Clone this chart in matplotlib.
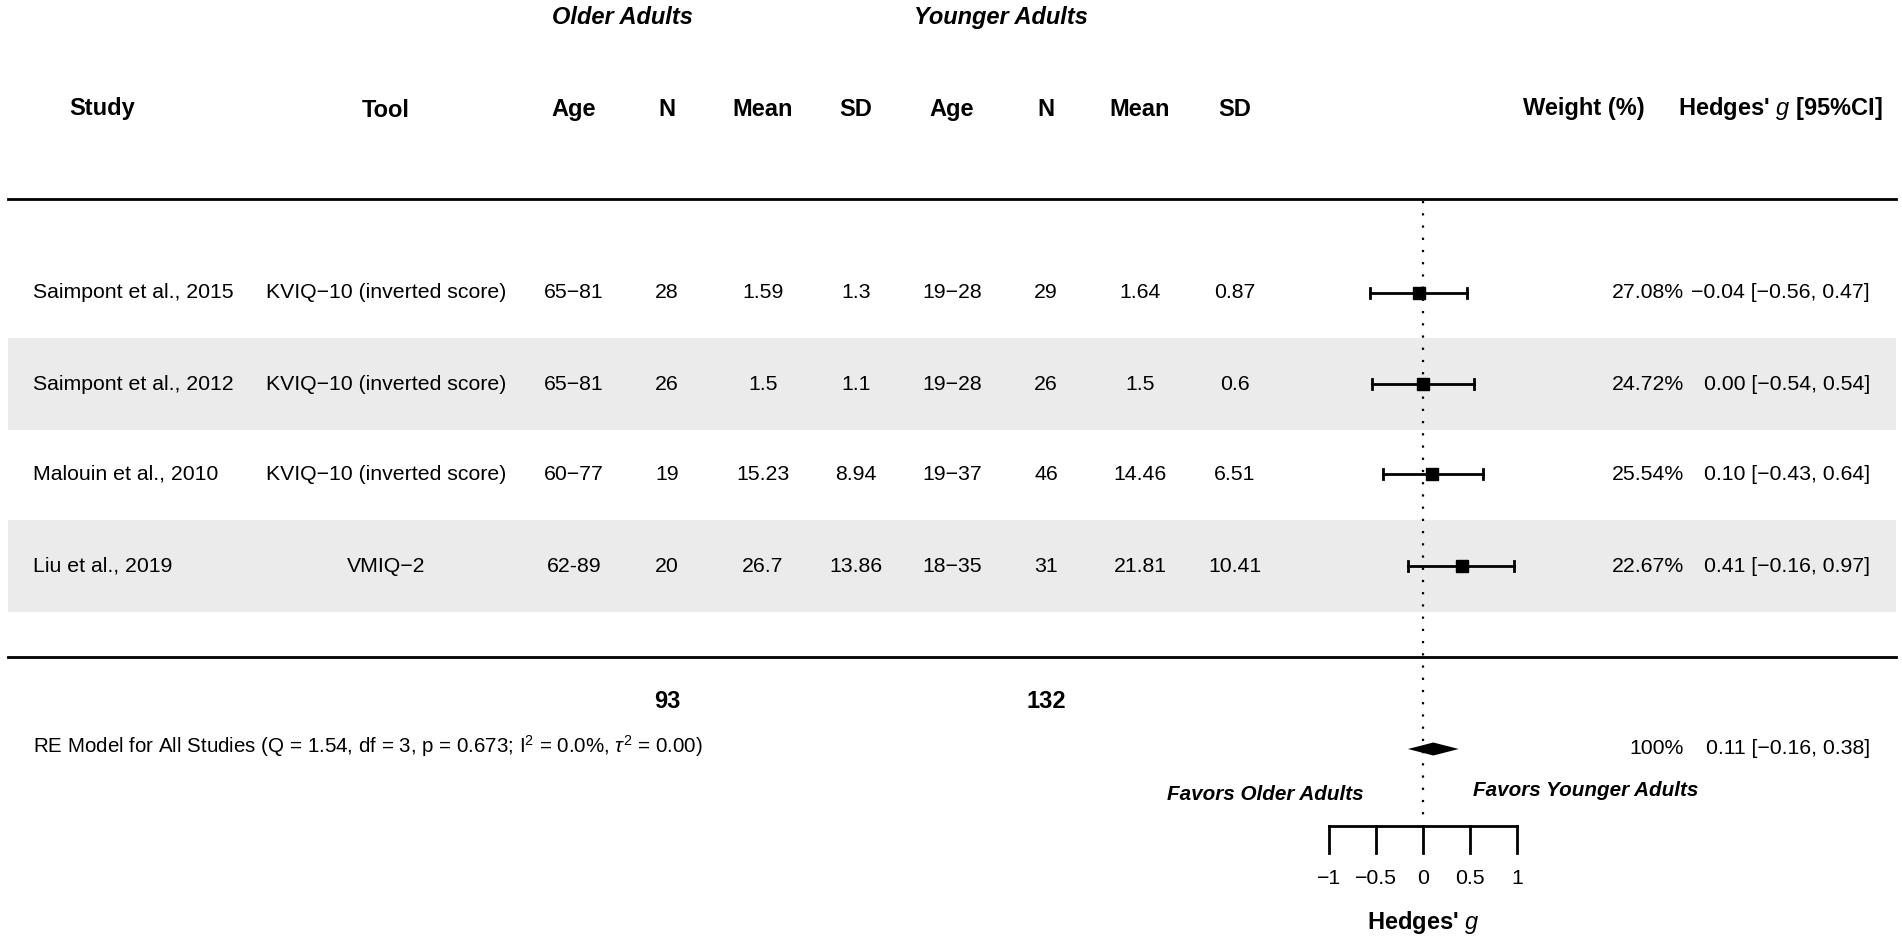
import numpy as np
import matplotlib.pyplot as plt

plt.rcParams['font.family'] = ['Liberation Sans', 'DejaVu Sans']
plt.rcParams['mathtext.fontset'] = 'custom'
plt.rcParams['mathtext.rm'] = 'Liberation Sans'
plt.rcParams['mathtext.it'] = 'Liberation Sans:italic'

# data
studies = ['Saimpont et al., 2015', 'Saimpont et al., 2012', 'Malouin et al., 2010', 'Liu et al., 2019']
tools = ['KVIQ\u221210 (inverted score)', 'KVIQ\u221210 (inverted score)', 'KVIQ\u221210 (inverted score)', 'VMIQ\u22122']
old_age = ['65\u221281', '65\u221281', '60\u221277', '62-89']
old_n = [28, 26, 19, 20]
old_mean = ['1.59', '1.5', '15.23', '26.7']
old_sd = ['1.3', '1.1', '8.94', '13.86']
young_age = ['19\u221228', '19\u221228', '19\u221237', '18\u221235']
young_n = [29, 26, 46, 31]
young_mean = ['1.64', '1.5', '14.46', '21.81']
young_sd = ['0.87', '0.6', '6.51', '10.41']
weights = [27.08, 24.72, 25.54, 22.67]
g = [-0.04, 0.00, 0.10, 0.41]
ci_lo = [-0.56, -0.54, -0.43, -0.16]
ci_hi = [0.47, 0.54, 0.64, 0.97]
pooled = 0.11
pooled_lo = -0.16
pooled_hi = 0.38
xticks = [-1, -0.5, 0, 0.5, 1]

W, H = 1902, 941
ZERO_PX, UNIT = 1423, 94
row_y = [293, 384, 474, 566]
row_h = 92
FS = 15.3
HFS = 17

fig = plt.figure(figsize=(W / 100, H / 100), dpi=100)
ax = fig.add_axes([0, 0, 1, 1])
ax.set_xlim(0, W)
ax.set_ylim(H, 0)
ax.axis('off')

# shaded rows
for i, y in enumerate(row_y):
    if i % 2 == 1:
        ax.axhspan(y - row_h / 2, y + row_h / 2, xmin=8 / W, xmax=1896 / W, color='#ebebeb', lw=0, zorder=0)

ax.plot([8, 1896], [199, 199], color='black', lw=2)
ax.plot([8, 1896], [657, 657], color='black', lw=2)

hdr = dict(fontsize=HFS, fontweight='bold', ha='center', va='center')
ax.text(622, 17, 'Older Adults', style='italic', **hdr)
ax.text(1001, 17, 'Younger Adults', style='italic', **hdr)
cols = [574, 667, 763, 856, 952, 1046, 1140, 1235]
names = ['Age', 'N', 'Mean', 'SD', 'Age', 'N', 'Mean', 'SD']
ax.text(102, 108, 'Study', **hdr)
ax.text(386, 110, 'Tool', **hdr)
for x, nm in zip(cols, names):
    ax.text(x, 109, nm, **hdr)
ax.text(1584, 108, 'Weight (%)', **hdr)
ax.text(1780, 108, r"Hedges' $\mathbf{\mathit{g}}$ [95%CI]", **hdr)

for i, y in enumerate(row_y):
    ax.text(33, y, studies[i], fontsize=FS, ha='left', va='center')
    ax.text(386, y, tools[i], fontsize=FS, ha='center', va='center')
    vals = [old_age[i], old_n[i], old_mean[i], old_sd[i],
            young_age[i], young_n[i], young_mean[i], young_sd[i]]
    for x, v in zip(cols, vals):
        ax.text(x, y, str(v), fontsize=FS, ha='center', va='center')
    ax.text(1684, y, f'{weights[i]:.2f}%', fontsize=FS, ha='right', va='center')
    ax.text(1870, y, f'{g[i]:.2f} [{ci_lo[i]:.2f}, {ci_hi[i]:.2f}]'.replace('-', '\u2212'),
            fontsize=FS, ha='right', va='center')

ax.text(667, 702, str(sum(old_n)), **hdr)
ax.text(1046, 702, str(sum(young_n)), **hdr)
ax.text(33, 746, r'RE Model for All Studies (Q = 1.54, df = 3, p = 0.673; I$^2$ = 0.0%, $\tau^2$ = 0.00)',
        fontsize=14.8, ha='left', va='center')
ax.text(1684, 748, '100%', fontsize=FS, ha='right', va='center')
ax.text(1870, 748, f'{pooled:.2f} [{pooled_lo:.2f}, {pooled_hi:.2f}]'.replace('-', '\u2212'),
        fontsize=FS, ha='right', va='center')
fav = {**hdr, 'style': 'italic', 'fontsize': 14.9}
ax.text(1265, 795, 'Favors Older Adults', **fav)
ax.text(1586, 791, 'Favors Younger Adults', **fav)

# forest part, x in Hedges' g units
fp = fig.add_axes([0, 0, 1, 1])
fp.set_xlim(-ZERO_PX / UNIT, (W - ZERO_PX) / UNIT)
fp.set_ylim(H, 0)
fp.axis('off')

fp.plot([0, 0], [201, 822], color='black', lw=1.6, ls=(0, (1, 4.5)))
wmax = max(weights)
for i, y in enumerate(row_y):
    fp.plot([ci_lo[i], ci_hi[i]], [y, y], color='black', lw=2)
    for e in (ci_lo[i], ci_hi[i]):
        fp.plot([e, e], [y - 5, y + 5], color='black', lw=2)
    fp.plot(g[i], y, marker='s', color='black', ms=9 * np.sqrt(weights[i] / wmax))

dy = 749
fp.fill([pooled_lo, pooled, pooled_hi, pooled], [dy, dy - 6.5, dy, dy + 6.5], color='black', lw=0)

fp.plot([xticks[0], xticks[-1]], [826, 826], color='black', lw=2)
for t in xticks:
    fp.plot([t, t], [826, 853], color='black', lw=2)
    fp.text(t, 878, f'{t:g}'.replace('-', '\u2212'), fontsize=FS, ha='center', va='center')
fp.text(0, 922, r"Hedges' $\mathbf{\mathit{g}}$", fontsize=HFS, fontweight='bold', ha='center', va='center')

fig.savefig('out.png', dpi=100)
